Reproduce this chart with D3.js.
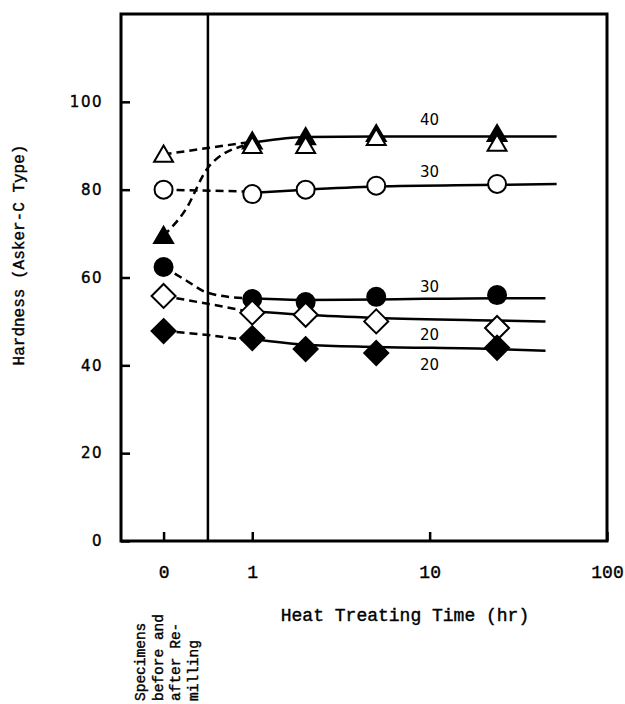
<!DOCTYPE html>
<html>
<head>
<meta charset="utf-8">
<script src="https://cdnjs.cloudflare.com/ajax/libs/d3/7.8.5/d3.min.js"></script>
<style>
body { margin: 0; background: #fff; }
svg { display: block; }
</style>
</head>
<body>
<svg id="chart" width="625" height="704"></svg>
<script>
// heat treating times (hr) measured after re-milling
var times = [1, 2, 5, 24];
// first value of each series = specimen column (before/after re-milling)
var triFill = [69.5, 91, 92, 92.7, 92.7];
var triOpen = [88, 90, 90, 91.8, 90.5];
var circOpen = [80, 79, 80, 80.9, 81.3];
var circFill = [62.4, 55.1, 54.4, 55.6, 56];
var diaOpen = [55.8, 52, 51.5, 50, 48.5];
var diaFill = [47.8, 46.2, 43.7, 42.8, 44];

// x values below are log10(hr); the specimen column sits at -0.5
var SPEC = -0.5, BREAK = -0.25;

// solid fitted curves, [hr, hardness]
var fit40 = [[1.08, 90.9], [2, 92], [5, 92.1], [24, 92.1], [52, 92.1]];
var fitCircOpen = [[1, 79.3], [2, 80], [5, 80.7], [24, 81.1], [52, 81.3]];
var fitCircFill = [[1, 55.3], [2, 54.9], [5, 55], [24, 55.3], [45, 55.3]];
var fitDiaOpen = [[1, 52.3], [2, 51.5], [5, 50.8], [24, 50.2], [45, 50]];
var fitDiaFill = [[1, 46], [2, 44.7], [5, 44.2], [24, 43.7], [45, 43.3]];

// dashed curves from specimen column, [log10 hr, hardness]
var dashTriOpen = [[-0.5, 88], [-0.25, 89.5], [-0.02, 90.8]];
var dashTriFill = [[-0.5, 69.5], [-0.375, 75.5], [-0.25, 85], [-0.05, 90]];
var dashCircOpen = [[-0.5, 80], [-0.05, 79.6]];
var dashCircFill = [[-0.5, 62.4], [-0.38, 59.5], [-0.25, 56.5], [-0.05, 55.3]];
var dashDiaOpen = [[-0.5, 55.8], [-0.25, 54], [-0.05, 52.5]];
var dashDiaFill = [[-0.5, 47.8], [-0.25, 46.9], [-0.05, 45.8]];

var curveLabels = [
    { text: "40", hr: 10, v: 95.9 },
    { text: "30", hr: 10, v: 84 },
    { text: "30", hr: 10, v: 57.9 },
    { text: "20", hr: 10, v: 46.9 },
    { text: "20", hr: 10, v: 40.1 }
];

var xTickPos = [SPEC, 0, 1, 2];
var xTickLabels = ["0", "1", "10", "100"];
var yTicks = [0, 20, 40, 60, 80, 100];
var specimenLines = ["Specimens", "before and", "after Re-", "milling"];

var margin = { top: 14, right: 18, bottom: 163, left: 121 };
var width = 625 - margin.left - margin.right,
    height = 704 - margin.top - margin.bottom;

var svg = d3.select("#chart");
var g = svg.append("g")
    .attr("transform", "translate(" + margin.left + "," + margin.top + ")");

var x = d3.scaleLinear().domain([-0.74, 2]).range([0, width]);
var y = d3.scaleLinear().domain([0, 120]).range([height, 0]);
function xh(h) { return x(Math.log10(h)); }

// marker shapes
var symTri = {
    draw: function (ctx, size) {
        var r = Math.sqrt(size);
        ctx.moveTo(0, -r);
        ctx.lineTo(r * 1.05, r * 0.8);
        ctx.lineTo(-r * 1.05, r * 0.8);
        ctx.closePath();
    }
};
var symDia = {
    draw: function (ctx, size) {
        var r = Math.sqrt(size);
        ctx.moveTo(0, -r);
        ctx.lineTo(r, 0);
        ctx.lineTo(0, r);
        ctx.lineTo(-r, 0);
        ctx.closePath();
    }
};

var series = [
    { vals: circOpen, sym: d3.symbolCircle, size: Math.PI * 81, filled: false, fit: fitCircOpen, dash: dashCircOpen },
    { vals: circFill, sym: d3.symbolCircle, size: Math.PI * 81, filled: true, fit: fitCircFill, dash: dashCircFill },
    { vals: diaOpen, sym: symDia, size: 144, filled: false, fit: fitDiaOpen, dash: dashDiaOpen },
    { vals: diaFill, sym: symDia, size: 144, filled: true, fit: fitDiaFill, dash: dashDiaFill },
    { vals: triFill, sym: symTri, size: 81, filled: true, fit: fit40, dash: dashTriFill },
    { vals: triOpen, sym: symTri, size: 81, filled: false, fit: null, dash: dashTriOpen }
];

// frame
g.append("rect")
    .attr("x", 0).attr("y", 0)
    .attr("width", width).attr("height", height)
    .attr("fill", "none")
    .attr("stroke", "#000")
    .attr("stroke-width", 3);

// divider between specimen column and time axis
g.append("line")
    .attr("x1", x(BREAK)).attr("x2", x(BREAK))
    .attr("y1", 0).attr("y2", height)
    .attr("stroke", "#000")
    .attr("stroke-width", 2.5);

// axes
var yAxis = d3.axisLeft(y).tickValues(yTicks).tickSize(-9).tickPadding(18);
var yG = g.append("g").attr("class", "y-axis").call(yAxis)
    .call(function (a) { a.select(".domain").remove(); });
yG.selectAll(".tick text")
    .attr("font-family", "DejaVu Sans, sans-serif")
    .attr("font-size", 15)
    .attr("letter-spacing", 1.5);

var xAxis = d3.axisBottom(x).tickValues(xTickPos).tickSize(-9).tickPadding(24)
    .tickFormat(function (d, i) { return xTickLabels[i]; });
var xG = g.append("g").attr("class", "x-axis")
    .attr("transform", "translate(0," + height + ")")
    .call(xAxis)
    .call(function (a) { a.select(".domain").remove(); });
xG.selectAll(".tick text")
    .attr("font-family", "Liberation Mono, monospace")
    .attr("font-size", 18);

svg.selectAll(".tick line").attr("stroke", "#000").attr("stroke-width", 2.5);
svg.selectAll(".tick text")
    .attr("fill", "#000")
    .attr("stroke", "#000")
    .attr("stroke-width", 0.4);

// curves
var line = d3.line()
    .x(function (d) { return xh(d[0]); })
    .y(function (d) { return y(d[1]); })
    .curve(d3.curveMonotoneX);
var dashLine = d3.line()
    .x(function (d) { return x(d[0]); })
    .y(function (d) { return y(d[1]); })
    .curve(d3.curveMonotoneX);

series.forEach(function (s) {
    if (s.fit) {
        g.append("path")
            .attr("d", line(s.fit))
            .attr("fill", "none")
            .attr("stroke", "#000")
            .attr("stroke-width", 2.5);
    }
    g.append("path")
        .attr("d", dashLine(s.dash))
        .attr("fill", "none")
        .attr("stroke", "#000")
        .attr("stroke-width", 2.5)
        .attr("stroke-dasharray", "8,5");
});

// markers
series.forEach(function (s) {
    var pts = s.vals.map(function (v, i) {
        return { px: i === 0 ? x(SPEC) : xh(times[i - 1]), v: v };
    });
    g.append("g").selectAll("path")
        .data(pts)
        .enter().append("path")
        .attr("transform", function (d) { return "translate(" + d.px + "," + y(d.v) + ")"; })
        .attr("d", d3.symbol().type(s.sym).size(s.size))
        .attr("fill", s.filled ? "#000" : "#fff")
        .attr("stroke", "#000")
        .attr("stroke-width", 2);
});

// curve labels
g.append("g").selectAll("text")
    .data(curveLabels)
    .enter().append("text")
    .attr("x", function (d) { return xh(d.hr); })
    .attr("y", function (d) { return y(d.v); })
    .attr("text-anchor", "middle")
    .attr("dominant-baseline", "central")
    .attr("font-family", "DejaVu Sans, sans-serif")
    .attr("font-size", 15)
    .text(function (d) { return d.text; });

// axis titles
svg.append("text")
    .attr("x", 405).attr("y", 616)
    .attr("text-anchor", "middle")
    .attr("dominant-baseline", "central")
    .attr("font-family", "Liberation Mono, monospace")
    .attr("font-size", 18)
    .attr("stroke", "#000")
    .attr("stroke-width", 0.4)
    .text("Heat Treating Time (hr)");

svg.append("text")
    .attr("transform", "translate(20,255) rotate(-90)")
    .attr("text-anchor", "middle")
    .attr("dominant-baseline", "central")
    .attr("font-family", "Liberation Mono, monospace")
    .attr("font-size", 16)
    .attr("stroke", "#000")
    .attr("stroke-width", 0.4)
    .text("Hardness (Asker-C Type)");

svg.append("g").selectAll("text")
    .data(specimenLines)
    .enter().append("text")
    .attr("transform", function (d, i) { return "translate(" + (141 + i * 17.5) + ",701) rotate(-90)"; })
    .attr("text-anchor", "start")
    .attr("dominant-baseline", "central")
    .attr("font-family", "Liberation Mono, monospace")
    .attr("font-size", 14.5)
    .attr("stroke", "#000")
    .attr("stroke-width", 0.4)
    .text(function (d) { return d; });
</script>
</body>
</html>
